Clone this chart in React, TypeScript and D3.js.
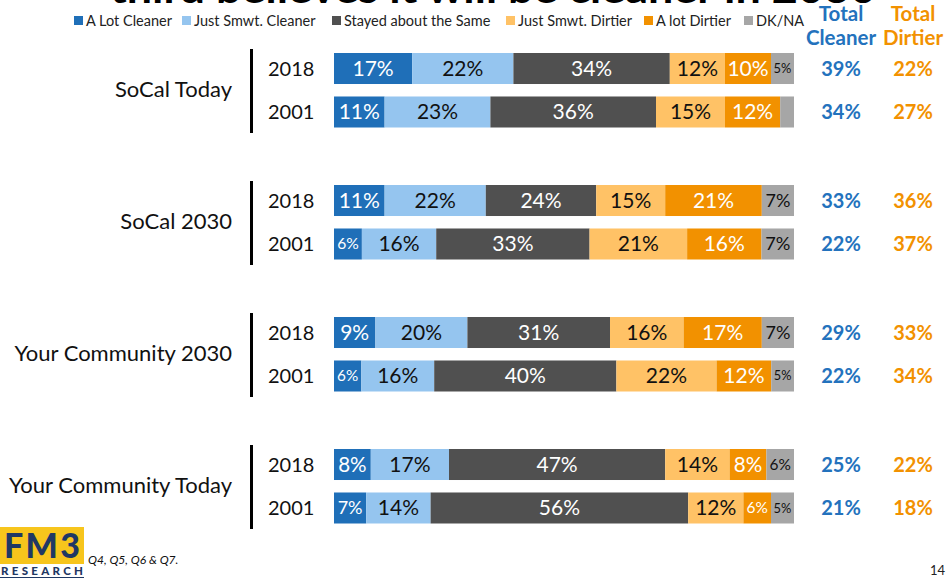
import React from "react";
import * as d3 from "d3";

const groups = ["SoCal Today", "SoCal 2030", "Your Community 2030", "Your Community Today"];
const years = ["2018", "2001"];
const categories = [
  "A Lot Cleaner",
  "Just Smwt. Cleaner",
  "Stayed about the Same",
  "Just Smwt. Dirtier",
  "A lot Dirtier",
  "DK/NA",
];
const colors = ["#1f6fb8", "#95c5ef", "#505050", "#ffc266", "#f29100", "#a6a6a6"];
const labelColors = ["#fff", "#111", "#fff", "#111", "#fff", "#111"];

// rows: group x year, in order
const aLotCleaner = [17, 11, 11, 6, 9, 6, 8, 7];
const smwtCleaner = [22, 23, 22, 16, 20, 16, 17, 14];
const stayedSame = [34, 36, 24, 33, 31, 40, 47, 56];
const smwtDirtier = [12, 15, 15, 21, 16, 22, 14, 12];
const aLotDirtier = [10, 12, 21, 16, 17, 12, 8, 6];
const dkNa = [5, 3, 7, 7, 7, 5, 6, 5];
const totalCleaner = [39, 34, 33, 22, 29, 22, 25, 21];
const totalDirtier = [22, 27, 36, 37, 33, 34, 22, 18];

const series = [aLotCleaner, smwtCleaner, stayedSame, smwtDirtier, aLotDirtier, dkNa];

const W = 949;
const H = 578;
const FONT = "Lato, 'Open Sans', sans-serif";
const BLUE = "#2372bd";
const ORANGE = "#f29100";

export default function App() {
  const groupY = d3.scaleBand().domain(groups).range([53, 53 + 132 * groups.length]);
  const yearY = d3.scaleBand().domain(years).range([0, 74.5]).paddingInner(0.287);
  const x = d3.scaleLinear().domain([0, 100]).range([334, 794]);

  const rows = groups.flatMap((g, gi) =>
    years.map((yr, yi) => {
      const i = gi * years.length + yi;
      const vals = series.map((s) => s[i]);
      const total = d3.sum(vals);
      const stack = d3.cumsum(vals);
      return {
        group: g,
        year: yr,
        i,
        y: (groupY(g) ?? 0) + (yearY(yr) ?? 0),
        segs: vals.map((v, k) => ({
          v,
          k,
          x0: x(((stack[k] - v) / total) * 100),
          x1: x((stack[k] / total) * 100),
        })),
      };
    })
  );
  const bh = yearY.bandwidth();

  // legend positions
  const legendX = [74, 182, 332, 506, 644, 744];

  return (
    <svg
      width={W}
      height={H}
      style={{ position: "absolute", left: 0, top: 0, background: "#fff" }}
      fontFamily={FONT}
    >
      {/* clipped title */}
      <text
        x={110}
        y={3}
        fontSize={40}
        fontWeight="bold"
        fill="#000"
        textLength={766}
        lengthAdjust="spacingAndGlyphs"
      >
        third believes it will be cleaner in 2030
      </text>

      {/* legend */}
      {categories.map((c, k) => (
        <g key={c} transform={`translate(${legendX[k]},21)`}>
          <rect x={0} y={-5} width={9} height={9} fill={colors[k]} />
          <text x={12} y={0} dy="0.35em" fontSize={14.5} fill="#222">
            {c}
          </text>
        </g>
      ))}

      {/* total headers */}
      <g fontWeight="bold" fontSize={20.5} textAnchor="middle">
        <text x={841} y={14} dy="0.35em" fill={BLUE}>Total</text>
        <text x={841} y={38} dy="0.35em" fill={BLUE}>Cleaner</text>
        <text x={913} y={14} dy="0.35em" fill={ORANGE}>Total</text>
        <text x={913} y={38} dy="0.35em" fill={ORANGE}>Dirtier</text>
      </g>

      {/* group labels and separators */}
      {groups.map((g) => {
        const gy = groupY(g) ?? 0;
        return (
          <g key={g}>
            <text x={232} y={gy + 36} dy="0.35em" fontSize={22} textAnchor="end" fill="#111">
              {g}
            </text>
            <line x1={251.5} x2={251.5} y1={gy - 4} y2={gy + 80} stroke="#000" strokeWidth={3} />
          </g>
        );
      })}

      {/* bars */}
      {rows.map((r) => (
        <g key={r.i}>
          <text x={268} y={r.y + bh / 2} dy="0.35em" fontSize={20} fill="#111">
            {r.year}
          </text>
          {r.segs.map((s) => {
            const w = s.x1 - s.x0;
            const fs = Math.min(21, w * 0.56);
            return (
              <g key={s.k}>
                <rect x={s.x0} y={r.y} width={w} height={bh} fill={colors[s.k]} />
                {s.v >= 4 && (
                  <text
                    x={(s.x0 + s.x1) / 2}
                    y={r.y + bh / 2}
                    dy="0.35em"
                    textAnchor="middle"
                    fontSize={fs}
                    fill={labelColors[s.k]}
                  >
                    {s.v}%
                  </text>
                )}
              </g>
            );
          })}
          <text
            x={841}
            y={r.y + bh / 2}
            dy="0.35em"
            textAnchor="middle"
            fontSize={20}
            fontWeight="bold"
            fill={BLUE}
          >
            {totalCleaner[r.i]}%
          </text>
          <text
            x={913}
            y={r.y + bh / 2}
            dy="0.35em"
            textAnchor="middle"
            fontSize={20}
            fontWeight="bold"
            fill={ORANGE}
          >
            {totalDirtier[r.i]}%
          </text>
        </g>
      ))}

      {/* logo */}
      <rect x={0} y={527} width={84} height={37} fill="#f7c51c" />
      <text
        x={42}
        y={546}
        dy="0.35em"
        textAnchor="middle"
        fontSize={34}
        fontWeight="900"
        fill="#1f3864"
        textLength={76}
        lengthAdjust="spacing"
      >
        FM3
      </text>
      <text
        x={1}
        y={571}
        dy="0.35em"
        fontSize={11.5}
        fontWeight="900"
        fill="#1f3864"
        textLength={82}
        lengthAdjust="spacing"
      >
        RESEARCH
      </text>
      <line x1={0} x2={84} y1={577.5} y2={577.5} stroke="#1f3864" strokeWidth={1} />

      <text x={88} y={560} dy="0.35em" fontSize={12} fontStyle="italic" fill="#111">
        Q4, Q5, Q6 &amp; Q7.
      </text>
      <text x={930} y={570} dy="0.35em" fontSize={13} fill="#222">
        14
      </text>
    </svg>
  );
}
